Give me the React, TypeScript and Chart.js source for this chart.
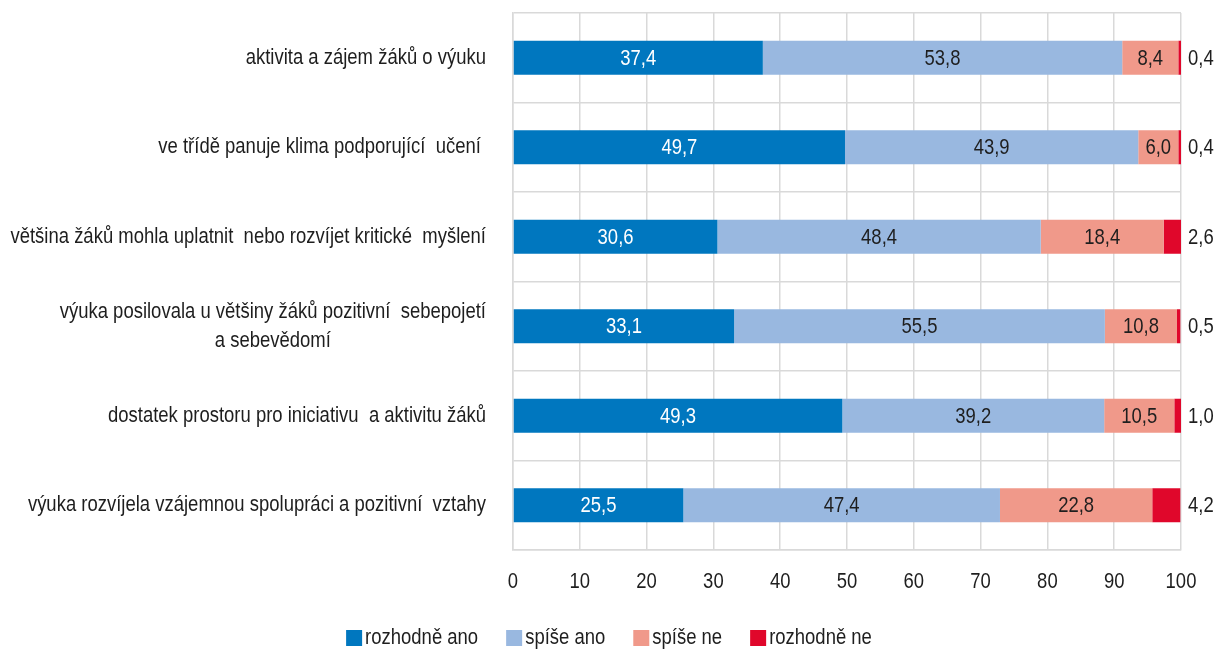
import { useEffect, useRef } from 'react';
import { Chart, registerables } from 'chart.js';

Chart.register(...registerables);

const FONT = '"Liberation Sans", Arial, sans-serif';
const FONT_SIZE = 22;
const NARROW = 0.84; // horizontal squeeze -> condensed proportions

const categories: (string | string[])[] = [
  'aktivita a zájem žáků o výuku',
  've třídě panuje klima podporující  učení ',
  'většina žáků mohla uplatnit  nebo rozvíjet kritické  myšlení',
  ['výuka posilovala u většiny žáků pozitivní  sebepojetí', 'a sebevědomí'],
  'dostatek prostoru pro iniciativu  a aktivitu žáků',
  'výuka rozvíjela vzájemnou spolupráci a pozitivní  vztahy',
];
const seriesNames = ['rozhodně ano', 'spíše ano', 'spíše ne', 'rozhodně ne'];
const rozhodneAno = [37.4, 49.7, 30.6, 33.1, 49.3, 25.5];
const spiseAno = [53.8, 43.9, 48.4, 55.5, 39.2, 47.4];
const spiseNe = [8.4, 6.0, 18.4, 10.8, 10.5, 22.8];
const rozhodneNe = [0.4, 0.4, 2.6, 0.5, 1.0, 4.2];
const xTickValues = [0, 10, 20, 30, 40, 50, 60, 70, 80, 90, 100];
const seriesColors = ['#0077bf', '#99b8e0', '#f0998a', '#e0072b'];
const labelColors = ['#ffffff', '#1e1e1e', '#1e1e1e', '#1e1e1e'];
const TEXT = '#1e1e1e';

const fmt = (v: number) => v.toFixed(1).replace('.', ',');

function measure(ctx: CanvasRenderingContext2D, t: string) {
  return ctx.measureText(t).width * NARROW;
}

function drawText(
  ctx: CanvasRenderingContext2D,
  t: string,
  x: number,
  y: number,
  align: CanvasTextAlign,
  color: string
) {
  ctx.save();
  ctx.translate(x, y);
  ctx.scale(NARROW, 1);
  ctx.textAlign = align;
  ctx.textBaseline = 'middle';
  ctx.fillStyle = color;
  ctx.fillText(t, 0, 0);
  ctx.restore();
}

const textPlugin = {
  id: 'customText',
  afterDraw(chart: any) {
    const ctx = chart.ctx as CanvasRenderingContext2D;
    const ys = chart.scales.y;
    const xs = chart.scales.x;
    ctx.save();
    ctx.font = `${FONT_SIZE}px ${FONT}`;

    // category labels (right block, lines centred on each other)
    const labelRight = ys.right - 27;
    categories.forEach((c, i) => {
      const lines = Array.isArray(c) ? c : [c];
      const w = Math.max(...lines.map((l) => measure(ctx, l)));
      const cx = labelRight - w / 2;
      const cy = ys.getPixelForValue(i);
      lines.forEach((l, j) => {
        drawText(ctx, l, cx, cy + (j - (lines.length - 1) / 2) * 29, 'center', TEXT);
      });
    });

    // x tick labels
    xs.ticks.forEach((tk: any) => {
      drawText(ctx, String(tk.value), xs.getPixelForValue(tk.value), 582, 'center', TEXT);
    });

    // data labels
    chart.data.datasets.forEach((ds: any, di: number) => {
      const meta = chart.getDatasetMeta(di);
      meta.data.forEach((el: any, i: number) => {
        const txt = fmt(ds.data[i]);
        if (di === 3) {
          drawText(ctx, txt, xs.getPixelForValue(100) + 7, el.y + 1, 'left', TEXT);
        } else {
          drawText(ctx, txt, (el.x + el.base) / 2, el.y + 1, 'center', labelColors[di]);
        }
      });
    });

    // legend
    const box = 16;
    const gapBoxText = 3;
    const gapItems = 28;
    const widths = seriesNames.map((n) => measure(ctx, n));
    const total =
      widths.reduce((a, b) => a + b + box + gapBoxText, 0) + gapItems * (seriesNames.length - 1);
    let x = chart.width / 2 - total / 2;
    const ly = 638;
    seriesNames.forEach((n, i) => {
      ctx.fillStyle = seriesColors[i];
      ctx.fillRect(x, ly - box / 2, box, box);
      drawText(ctx, n, x + box + gapBoxText, ly, 'left', TEXT);
      x += box + gapBoxText + widths[i] + gapItems;
    });
    ctx.restore();
  },
};

export default function App() {
  const ref = useRef<HTMLCanvasElement | null>(null);

  useEffect(() => {
    if (!ref.current) return;
    const seriesData = [rozhodneAno, spiseAno, spiseNe, rozhodneNe];
    const chart = new Chart(ref.current, {
      type: 'bar',
      data: {
        labels: categories.map((c) => (Array.isArray(c) ? c.join(' ') : c)),
        datasets: seriesNames.map((name, i) => ({
          label: name,
          data: seriesData[i],
          backgroundColor: seriesColors[i],
          borderWidth: 0,
          barPercentage: 0.38,
          categoryPercentage: 1,
        })),
      },
      options: {
        indexAxis: 'y',
        responsive: true,
        maintainAspectRatio: false,
        animation: false,
        layout: { padding: { top: 13, right: 37, bottom: 0, left: 0 } },
        plugins: {
          legend: { display: false },
          tooltip: { enabled: false },
        },
        scales: {
          x: {
            stacked: true,
            min: 0,
            max: 100,
            afterBuildTicks: (s: any) => {
              s.ticks = xTickValues.map((v) => ({ value: v }));
            },
            afterFit: (s: any) => {
              s.height = 103;
            },
            ticks: { display: false },
            grid: { color: '#d9d9d9', lineWidth: 1.5, drawTicks: false },
            border: { color: '#d9d9d9', width: 1.5 },
          },
          y: {
            stacked: true,
            afterFit: (s: any) => {
              s.width = 513;
            },
            ticks: { display: false },
            grid: { color: '#d9d9d9', lineWidth: 1.5, offset: true, drawTicks: false },
            border: { color: '#d9d9d9', width: 1.5 },
          },
        },
      },
      plugins: [textPlugin],
    } as any);
    return () => chart.destroy();
  }, []);

  return (
    <div style={{ position: 'fixed', left: 0, top: 0, width: 1218, height: 653 }}>
      <canvas ref={ref} />
    </div>
  );
}
